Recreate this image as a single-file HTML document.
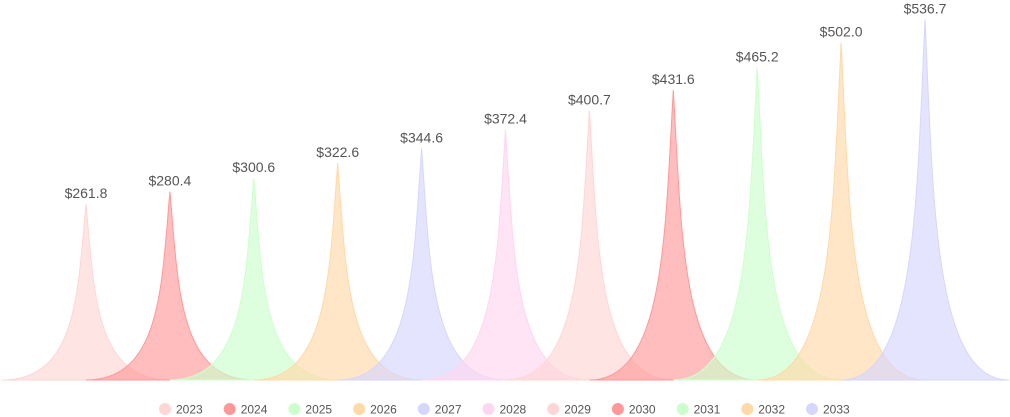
<!DOCTYPE html>
<html><head><meta charset="utf-8"><style>
html,body{margin:0;padding:0;background:#fff;}
svg{display:block;font-family:"Liberation Sans",sans-serif;}
</style></head><body>
<svg id="c" width="1010" height="417" xmlns="http://www.w3.org/2000/svg"></svg>
<script>
var vals=[261.8,280.4,300.6,322.6,344.6,372.4,400.7,431.6,465.2,502.0,536.7];
var cols=["#ffd6d6","#ff9999","#ccffcc","#ffd9a8","#d6d6ff","#ffd6f0","#ffd6d6","#ff9999","#ccffcc","#ffd9a8","#d6d6ff"];
var s="",base=380,k=0.672;
for(var i=0;i<11;i++){
 var c=86+i*83.9,t=base-vals[i]*k,m=(t+base)/2,c2=cols[i];
 s+='<path d="M'+(c-84)+','+base+' L'+(c+84)+','+base+' C'+(c+8.4)+','+base+' '+(c+8.4)+','+m+' '+c+','+t+' C'+(c-8.4)+','+m+' '+(c-8.4)+','+base+' '+(c-84)+','+base+' Z" fill="'+c2+'" fill-opacity="0.65" stroke="'+c2+'" stroke-width="1"/>';
 s+='<text x="'+c+'" y="'+(t-6)+'" text-anchor="middle" font-size="14" fill="#555">$'+vals[i].toFixed(1)+'</text>';
}
for(var i=0;i<11;i++){
 var x=165+i*64.7;
 s+='<circle cx="'+x+'" cy="409" r="6" fill="'+cols[i]+'"/>';
 s+='<text x="'+(x+11)+'" y="413.5" font-size="12" fill="#555">'+(2023+i)+'</text>';
}
document.getElementById("c").innerHTML=s;
</script>
</body></html>
